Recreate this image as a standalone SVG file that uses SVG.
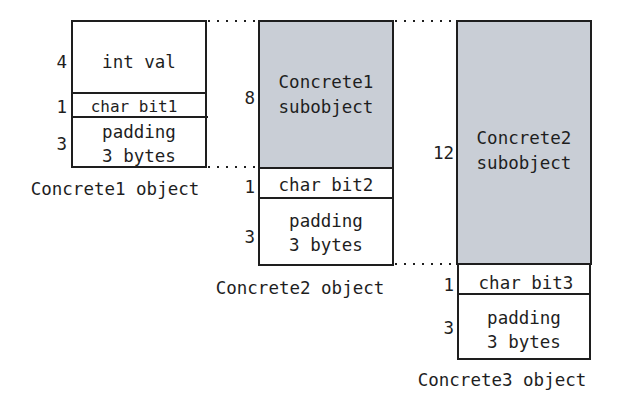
<svg xmlns="http://www.w3.org/2000/svg" width="621" height="407" viewBox="0 0 621 407">
<style>
.box{fill:#fff;stroke:#1e1e1e;stroke-width:2}
.sub{fill:#c9ced6;stroke:#1e1e1e;stroke-width:2}
.sep{stroke:#1e1e1e;stroke-width:2}
.dot{stroke:#1e1e1e;stroke-width:2;stroke-dasharray:2 7;fill:none}
text{font-family:"DejaVu Sans Mono","Liberation Mono",monospace;font-size:17.5px;fill:#1e1e1e;dominant-baseline:central}
.c{text-anchor:middle}
.n{text-anchor:end}
</style>
<rect width="621" height="407" fill="#fff"/>
<g id="connectors">
<line class="dot" x1="208" y1="21" x2="259" y2="21"/>
<line class="dot" x1="208" y1="167" x2="259" y2="167"/>
<line class="dot" x1="395" y1="21" x2="457" y2="21"/>
<line class="dot" x1="395" y1="264" x2="457" y2="264"/>
</g>
<g id="obj1">
<rect class="box" x="72" y="21" width="134" height="146"/>
<line class="sep" x1="72" y1="93" x2="206" y2="93"/>
<line class="sep" x1="72" y1="117" x2="208" y2="117"/>
<text class="c" x="139" y="62">int val</text>
<text class="c" x="134" y="106" style="font-size:16px">char bit1</text>
<text class="c" x="139" y="132">padding</text>
<text class="c" x="139" y="156">3 bytes</text>
<text class="n" x="67" y="62">4</text>
<text class="n" x="67" y="107">1</text>
<text class="n" x="67" y="144">3</text>
<text class="c" x="115" y="189">Concrete1 object</text>
</g>
<g id="obj2">
<rect class="sub" x="259" y="21" width="134" height="147"/>
<rect class="box" x="259" y="168" width="134" height="97"/>
<line class="sep" x1="259" y1="198" x2="393" y2="198"/>
<text class="c" x="326" y="82">Concrete1</text>
<text class="c" x="326" y="107">subobject</text>
<text class="c" x="326" y="185">char bit2</text>
<text class="c" x="326" y="221">padding</text>
<text class="c" x="326" y="245">3 bytes</text>
<text class="n" x="255" y="98">8</text>
<text class="n" x="255" y="187">1</text>
<text class="n" x="255" y="237">3</text>
<text class="c" x="300" y="288">Concrete2 object</text>
</g>
<g id="obj3">
<rect class="sub" x="457" y="21" width="134" height="243"/>
<rect class="box" x="458" y="264" width="132" height="95"/>
<line class="sep" x1="458" y1="294" x2="590" y2="294"/>
<text class="c" x="524" y="138">Concrete2</text>
<text class="c" x="524" y="163">subobject</text>
<text class="c" x="526" y="283">char bit3</text>
<text class="c" x="524" y="318">padding</text>
<text class="c" x="524" y="342">3 bytes</text>
<text class="n" x="454" y="153">12</text>
<text class="n" x="454" y="285">1</text>
<text class="n" x="454" y="328">3</text>
<text class="c" x="502" y="380">Concrete3 object</text>
</g>
</svg>
